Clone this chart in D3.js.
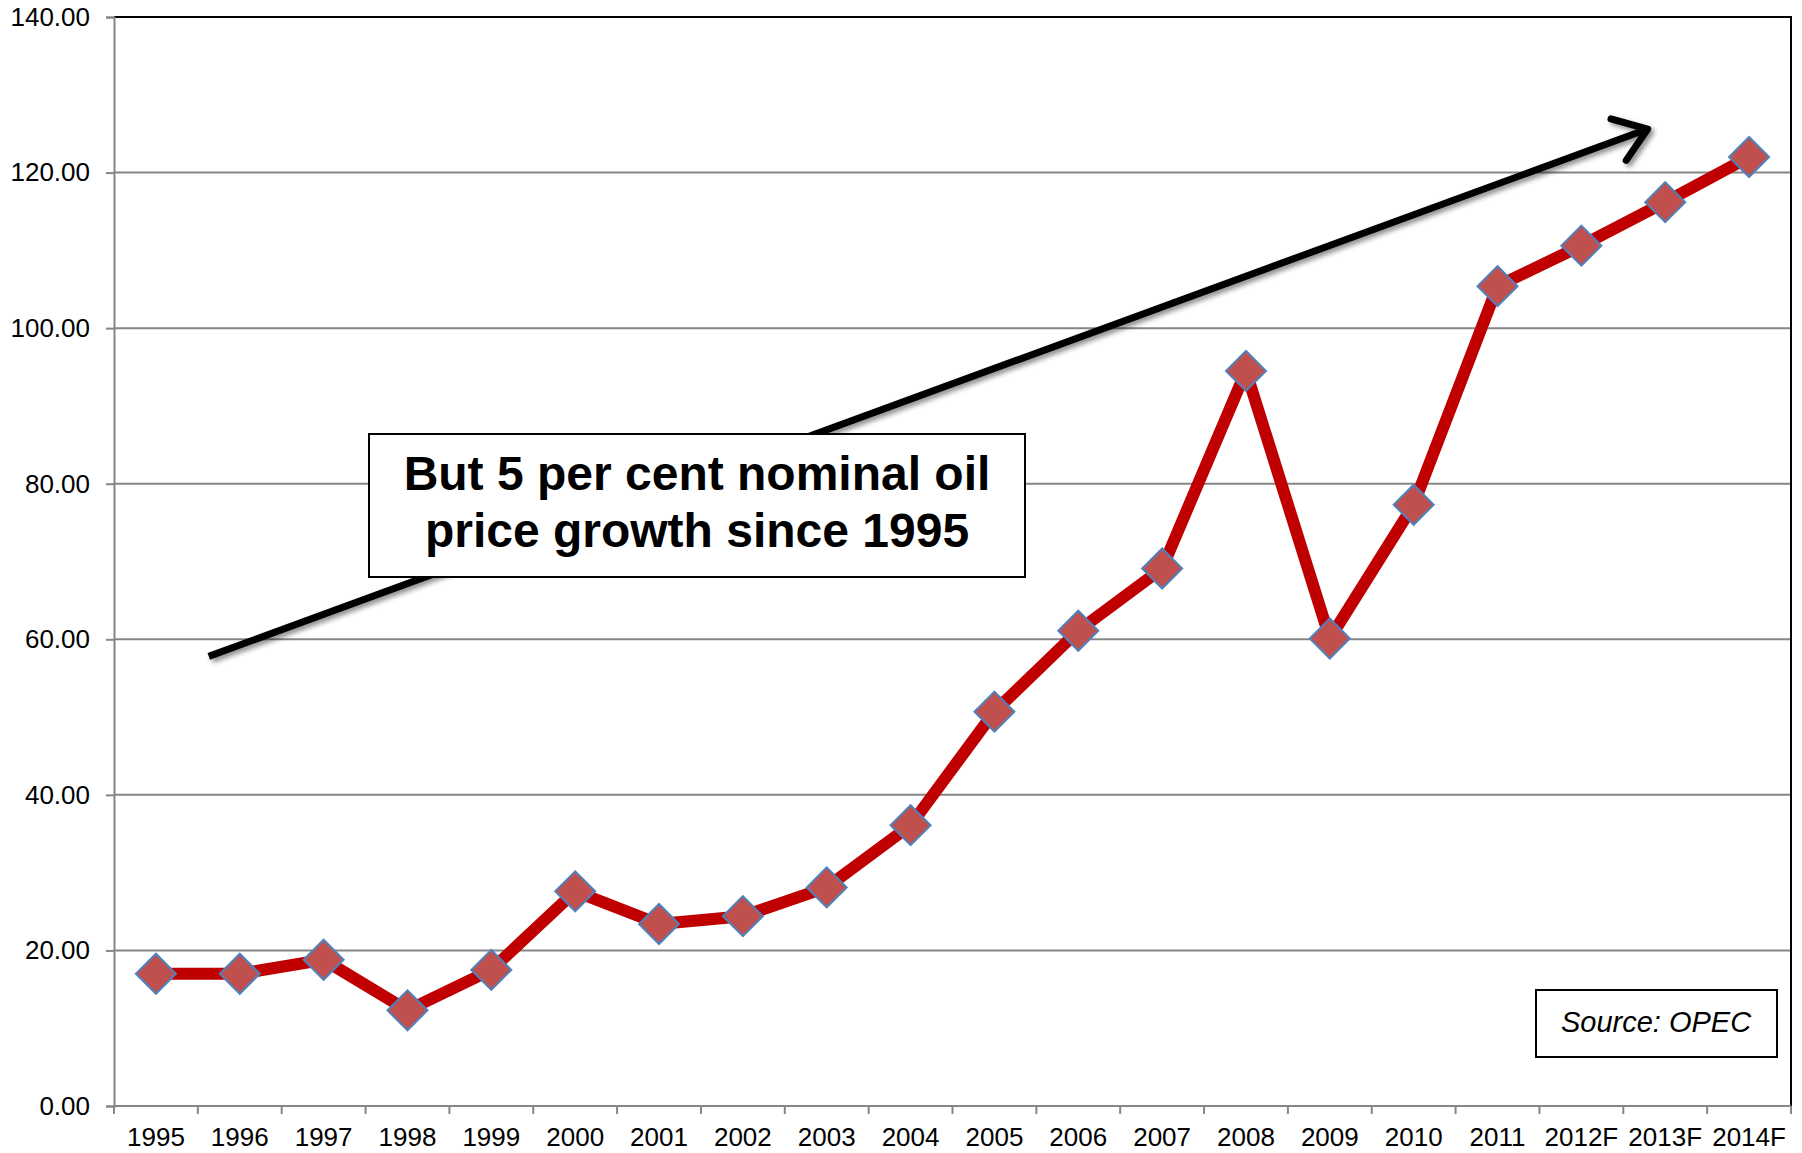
<!DOCTYPE html>
<html>
<head>
<meta charset="utf-8">
<script src="https://cdn.jsdelivr.net/npm/d3@7"></script>
<style>
body { margin: 0; background: #fff; }
svg { display: block; font-family: "Liberation Sans", Arial, sans-serif; }
</style>
</head>
<body>
<svg id="chart" width="1802" height="1153"></svg>
<script>
var years = ['1995', '1996', '1997', '1998', '1999', '2000', '2001', '2002', '2003', '2004',
    '2005', '2006', '2007', '2008', '2009', '2010', '2011', '2012F', '2013F', '2014F'];
var prices = [17.0, 17.0, 18.8, 12.3, 17.5, 27.6, 23.4, 24.4, 28.1, 36.1,
    50.7, 61.1, 69.1, 94.5, 60.1, 77.3, 105.4, 110.6, 116.2, 122.0];
var yTicks = [0, 20, 40, 60, 80, 100, 120, 140];
var noteLines = ['But 5 per cent nominal oil', 'price growth since 1995'];
var sourceNote = 'Source: OPEC';
// trend arrow, given as [category index, value]
var trendFrom = [0.63, 57.8];
var trendTo = [17.79, 125.6];

function draw(elem) {
    var margin = {top: 17, right: 11, bottom: 47, left: 114};
    var width = 1802 - margin.left - margin.right;
    var height = 1153 - margin.top - margin.bottom;

    var svg = d3.select(elem);

    var defs = svg.append('defs');
    defs.append('filter')
        .attr('id', 'shadow')
        .attr('x', '-10%').attr('y', '-10%')
        .attr('width', '120%').attr('height', '130%')
        .append('feDropShadow')
        .attr('dx', 3).attr('dy', 3)
        .attr('stdDeviation', 2.5)
        .attr('flood-color', '#000')
        .attr('flood-opacity', 0.45);

    var g = svg.append('g')
        .attr('transform', 'translate(' + margin.left + ',' + margin.top + ')');

    var x = d3.scaleBand().domain(years).range([0, width]);
    var y = d3.scaleLinear().domain([0, 140]).range([height, 0]);
    var xi = function(i) { return x.step() * (i + 0.5); };

    // gridlines
    g.append('g')
        .selectAll('line')
        .data(yTicks.slice(1, -1))
        .join('line')
        .attr('x1', 0).attr('x2', width)
        .attr('y1', function(d) { return y(d); })
        .attr('y2', function(d) { return y(d); })
        .attr('stroke', '#868686')
        .attr('stroke-width', 2);

    // plot frame top and right
    g.append('path')
        .attr('d', 'M0,' + y(140) + 'H' + width + 'V' + height)
        .attr('fill', 'none')
        .attr('stroke', '#000')
        .attr('stroke-width', 2);

    // y axis
    var yAxis = g.append('g')
        .call(d3.axisLeft(y).tickValues(yTicks).tickSize(8).tickPadding(16)
            .tickFormat(d3.format('.2f')));
    yAxis.select('.domain').attr('stroke', '#868686').attr('stroke-width', 2);
    yAxis.selectAll('.tick line').attr('stroke', '#868686').attr('stroke-width', 2);
    yAxis.selectAll('.tick text')
        .attr('fill', '#000')
        .style('font-size', '26px')
        .style('font-family', '"Liberation Sans", Arial, sans-serif');

    // x axis, ticks on band edges
    var xAxis = g.append('g')
        .attr('transform', 'translate(0,' + height + ')');
    xAxis.append('line')
        .attr('x1', 0).attr('x2', width)
        .attr('stroke', '#868686').attr('stroke-width', 2);
    xAxis.selectAll('line.tick')
        .data(d3.range(years.length + 1))
        .join('line')
        .attr('class', 'tick')
        .attr('x1', function(i) { return x.step() * i; })
        .attr('x2', function(i) { return x.step() * i; })
        .attr('y1', 0).attr('y2', 8)
        .attr('stroke', '#868686').attr('stroke-width', 2);
    xAxis.selectAll('text')
        .data(years)
        .join('text')
        .attr('x', function(d) { return x(d) + x.bandwidth() / 2; })
        .attr('y', 40)
        .attr('text-anchor', 'middle')
        .attr('fill', '#000')
        .style('font-size', '26px')
        .text(function(d) { return d; });

    // trend arrow
    var ax1 = xi(trendFrom[0]), ay1 = y(trendFrom[1]);
    var ax2 = xi(trendTo[0]), ay2 = y(trendTo[1]);
    var ang = Math.atan2(ay2 - ay1, ax2 - ax1);
    var head = 38, spread = 0.62;
    var arrow = g.append('g').attr('filter', 'url(#shadow)');
    arrow.append('line')
        .attr('x1', ax1).attr('y1', ay1)
        .attr('x2', ax2 - 3 * Math.cos(ang)).attr('y2', ay2 - 3 * Math.sin(ang))
        .attr('stroke', '#000').attr('stroke-width', 7);
    arrow.append('path')
        .attr('d', 'M' + (ax2 - head * Math.cos(ang - spread)) + ',' + (ay2 - head * Math.sin(ang - spread)) +
            'L' + ax2 + ',' + ay2 +
            'L' + (ax2 - head * Math.cos(ang + spread)) + ',' + (ay2 - head * Math.sin(ang + spread)))
        .attr('fill', 'none')
        .attr('stroke', '#000')
        .attr('stroke-width', 7)
        .attr('stroke-linecap', 'round')
        .attr('stroke-linejoin', 'round');

    // price line
    var line = d3.line()
        .x(function(d, i) { return x(years[i]) + x.bandwidth() / 2; })
        .y(function(d) { return y(d); });
    g.append('path')
        .datum(prices)
        .attr('d', line)
        .attr('fill', 'none')
        .attr('stroke', '#C00000')
        .attr('stroke-width', 12)
        .attr('stroke-linejoin', 'round');

    // diamond markers
    var sym = d3.symbol().type(d3.symbolSquare).size(800);
    g.selectAll('path.marker')
        .data(prices)
        .join('path')
        .attr('class', 'marker')
        .attr('d', sym)
        .attr('transform', function(d, i) {
            return 'translate(' + (x(years[i]) + x.bandwidth() / 2) + ',' + y(d) + ') rotate(45)';
        })
        .attr('fill', '#C0504D')
        .attr('stroke', '#4F81BD')
        .attr('stroke-width', 2);

    // annotation box
    var note = g.append('g')
        .attr('transform', 'translate(' + (369 - margin.left) + ',' + (434 - margin.top) + ')');
    note.append('rect')
        .attr('width', 656).attr('height', 143)
        .attr('fill', '#fff')
        .attr('stroke', '#000')
        .attr('stroke-width', 2);
    note.selectAll('text')
        .data(noteLines)
        .join('text')
        .attr('x', 328)
        .attr('y', function(d, i) { return 56 + i * 57; })
        .attr('text-anchor', 'middle')
        .attr('fill', '#000')
        .style('font-size', '48px')
        .style('font-weight', 'bold')
        .text(function(d) { return d; });

    // source box
    var src = g.append('g')
        .attr('transform', 'translate(' + (1536 - margin.left) + ',' + (990 - margin.top) + ')');
    src.append('rect')
        .attr('width', 241).attr('height', 67)
        .attr('fill', '#fff')
        .attr('stroke', '#000')
        .attr('stroke-width', 2);
    src.append('text')
        .attr('x', 120).attr('y', 42)
        .attr('text-anchor', 'middle')
        .attr('fill', '#000')
        .style('font-size', '29px')
        .style('font-style', 'italic')
        .text(sourceNote);
}

draw(document.getElementById('chart'));
</script>
</body>
</html>
